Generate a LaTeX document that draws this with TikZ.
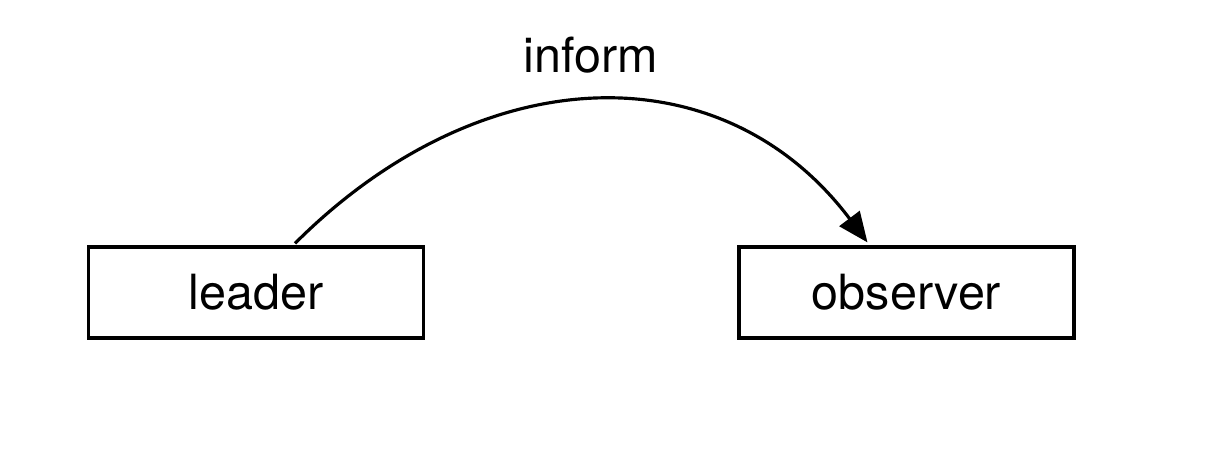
\documentclass[tikz,border=0pt]{standalone}
\usepackage{fontspec}
\setmainfont{TeX Gyre Heros}
\usetikzlibrary{arrows.meta}

\begin{document}
\begin{tikzpicture}[
		font=\fontsize{13.8}{16}\selectfont,
		role/.style={draw, line width=0.9pt, minimum width=3.35cm, minimum height=0.91cm, inner sep=0pt},
		msg/.style={line width=0.9pt, -{Triangle[length=3mm, width=2.5mm]}}
	]
	
	\useasboundingbox (0,0) rectangle (12.08,4.62);
	
	\def\off{0.39cm} % offset of the arc ends from the box centres
	
	% the two roles
	\node[role] (leader) at (2.56,1.695) {leader};
	\node[role] (observer) at (9.065,1.695) {observer};
	
	% the message
	\draw[msg] ([xshift=\off, yshift=0.2mm]leader.north) .. controls +(45:2.62) and +(127:2.42) .. node[above=1.4mm, xshift=-0.5mm] {inform} ([xshift=-\off, yshift=0.3mm]observer.north);
	
\end{tikzpicture}
\end{document}
